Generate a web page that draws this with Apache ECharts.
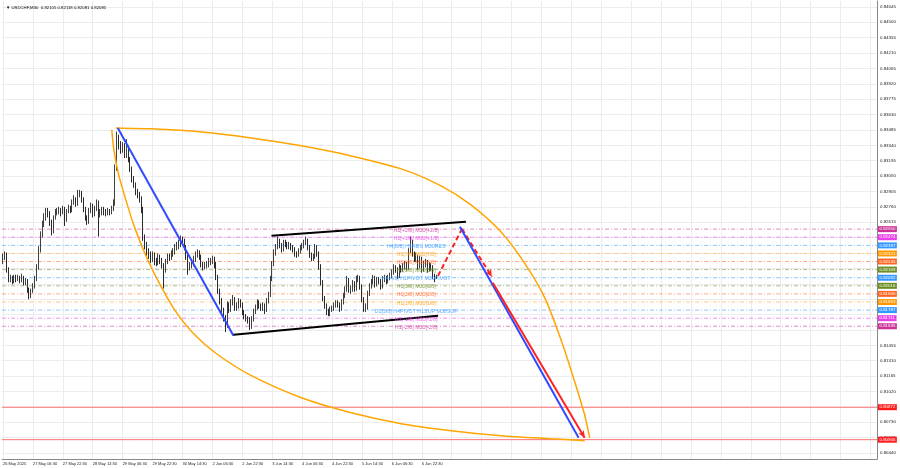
<!DOCTYPE html>
<html><head><meta charset="utf-8">
<script src="https://cdn.jsdelivr.net/npm/echarts@6/dist/echarts.min.js"></script>
<style>html,body{margin:0;padding:0;background:#fff}#c{width:900px;height:468px}</style>
</head><body><div id="c"></div>
<script>
// ---------- data ----------
const chartTitle = 'USDCHF,M30  0.82105 0.82118 0.82081 0.82085';
const timeLabels = ['26 May 2025','27 May 06:30','27 May 22:30','28 May 14:30','29 May 06:30','29 May 22:30','30 May 14:30','2 Jun 06:30','2 Jun 22:30','3 Jun 14:30','4 Jun 06:30','4 Jun 22:30','5 Jun 14:30','6 Jun 06:30','6 Jun 22:30'];
const barsPerLabel = 16;
const totalSlots = 468;
const priceTicks = [0.84645,0.84500,0.84355,0.84210,0.84065,0.83920,0.83775,0.83630,0.83485,0.83340,0.83195,0.83050,0.82905,0.82760,0.82615,0.81455,0.81310,0.81165,0.81020,0.80730,0.80585,0.80440];
const gridPrices = [0.84645,0.84500,0.84355,0.84210,0.84065,0.83920,0.83775,0.83630,0.83485,0.83340,0.83195,0.83050,0.82905,0.82760,0.82615,0.82470,0.82325,0.82180,0.82035,0.81890,0.81745,0.81600,0.81455,0.81310,0.81165,0.81020,0.80875,0.80730,0.80585,0.80440];

// OHLC in pips above 0.8000 (229 => 0.8229); open = previous close
const firstOpen = 225;
const closes = [229,231,217,208,209,206,210,208,209,207,
210,205,206,198,193,197,201,208,219,236,
250,260,266,272,270,262,253,266,271,272,
273,271,274,264,272,275,273,280,283,279,
287,289,283,274,266,262,272,277,269,274,
280,269,271,274,271,270,272,271,274,279,
312,342,335,330,334,325,332,321,312,302,
297,290,287,283,274,247,240,234,231,227,
231,225,224,229,225,221,217,225,229,228,
232,234,238,239,241,245,244,238,229,220,
221,223,227,231,233,229,222,220,221,222,
225,225,227,222,210,197,188,179,172,164,
184,179,186,189,181,183,187,184,177,173,
171,170,164,170,177,181,186,183,181,183,
179,187,193,208,222,232,238,244,240,236,
242,241,239,240,238,236,232,231,234,237,
239,242,244,238,231,229,229,238,232,220,
205,190,183,177,176,179,180,183,185,184,
180,186,192,198,207,198,198,204,199,208,
209,201,189,181,181,194,201,205,209,203,
207,206,201,208,209,206,209,211,214,219,
217,211,219,217,220,222,219,234,243,232,
227,229,220,227,217,222,224,217,221,219,
211,208,209];
const highs = [232,234,233,219,212,211,212,212,212,211,
213,211,209,208,200,199,204,211,222,239,
253,263,270,275,275,272,264,268,274,275,
276,275,277,276,274,278,277,283,287,285,
292,292,291,285,276,268,275,280,279,277,
283,282,274,276,276,274,275,274,277,283,
316,347,344,338,337,336,340,334,323,314,
305,299,293,290,286,276,250,243,237,234,
234,233,228,232,231,228,223,227,232,232,
235,237,241,243,245,249,248,246,240,231,
224,226,230,234,236,235,231,224,224,225,
228,228,230,229,224,212,199,190,181,174,
187,186,189,193,191,186,190,189,186,179,
175,173,172,173,180,184,189,188,185,186,
185,190,196,211,225,236,241,248,246,242,
245,245,243,243,242,240,238,234,237,240,
242,245,248,246,240,233,232,241,240,234,
222,207,192,185,180,182,183,186,188,188,
186,189,195,201,211,209,202,207,206,211,
212,211,203,191,185,197,204,208,212,211,
210,210,208,211,212,211,212,214,217,222,
221,219,222,221,223,225,224,237,248,245,
234,233,231,230,229,225,227,226,224,223,
221,213,212];
const lows = [222,226,214,205,205,203,204,205,206,204,
205,202,202,195,189,190,195,199,206,217,
233,247,257,263,266,258,249,251,264,268,
269,267,269,258,262,270,270,271,278,276,
277,285,280,271,263,259,260,270,266,267,
272,248,266,268,268,267,268,268,269,272,
277,310,330,326,327,322,322,318,309,299,
294,287,284,280,270,244,236,230,227,223,
224,221,220,221,222,218,199,214,222,225,
226,229,231,235,236,238,240,235,226,212,
216,218,220,224,228,226,219,216,217,218,
219,221,222,218,207,194,184,175,168,158,
162,176,177,183,178,178,180,181,174,170,
168,166,160,161,168,175,179,180,178,178,
175,177,185,191,206,220,230,236,237,233,
234,238,236,236,235,233,229,228,229,232,
235,237,240,235,228,225,225,227,229,217,
202,187,180,174,173,173,177,178,181,181,
177,178,184,190,196,195,194,196,196,197,
205,198,186,177,177,179,192,199,203,200,
201,203,198,199,205,203,204,207,209,212,
214,208,209,214,215,217,216,217,232,229,
224,224,217,218,214,215,219,214,215,216,
208,205,208];

// Murrey levels (price), names, colours (badge/text colour, line colour)
const murreyLevels = [0.82550,0.82474,0.82397,0.82321,0.82245,0.82169,0.82092,0.82016,0.81940,0.81863,0.81787,0.81711,0.81635];
const murreyNames = ['H1[+2/8] M30[+2/8]','H1[+1/8] M30[+1/8]','H4[8/8] H1RES M30RES','H1[7/8] M30[7/8]','H1[6/8] M30[6/8]','H1[5/8] M30[5/8]','H4[4/8] H1PIVOT M30PIVOT','H1[3/8] M30[3/8]','H1[2/8] M30[2/8]','H1[1/8] M30[1/8]','D1[3/8] H4PIVOT H1SUP M30SUP','H1[-1/8] M30[-1/8]','H1[-2/8] M30[-2/8]'];
const murreyColors = ['#cc3399','#e840e8','#3399ff','#ff9900','#ff6622','#6b8e23','#3399ff','#6b8e23','#ff6622','#ff9900','#3399ff','#e840e8','#cc3399'];
const murreyLineColors = ['#e08cc4','#f08cf0','#8cc4ff','#ffc880','#ffa888','#aabd88','#8cc4ff','#aabd88','#ffa888','#ffc880','#8cc4ff','#f08cf0','#e08cc4'];
const redLevels = [0.80872,0.80566];

// drawn objects: [bar index, price]
const blueTrend1 = [[61.4,0.83504],[123.3,0.81545]];
const channelUpper = [[143.6,0.82487],[247.6,0.82619]];
const channelLower = [[123.3,0.81555],[232.7,0.81734]];
const redDashUp = [[232.7,0.82110],[245.5,0.82553]];
const redDashDown = [[245.5,0.82553],[261.5,0.82101]];
const blueTrend2 = [[244.4,0.82572],[307.9,0.80585]];
const redTrend = [[262.0,0.82044],[311.1,0.80585]];
const upperArc = [[60.3,0.83504],[79.5,0.83495],[106.2,0.83466],[132.9,0.83410],[159.6,0.83335],[186.3,0.83240],[213.0,0.83118],[234.3,0.82958],[250.3,0.82779],[266.3,0.82525],[279.6,0.82214],[290.3,0.81884],[299.4,0.81461],[306.3,0.81084],[311.1,0.80801],[313.8,0.80585]];
const lowerArc = [[58.2,0.83485],[59.3,0.83297],[61.9,0.83061],[65.7,0.82826],[70.5,0.82562],[76.9,0.82280],[83.8,0.82035],[91.8,0.81790],[102.0,0.81564],[114.2,0.81376],[132.9,0.81169],[159.6,0.80961],[186.3,0.80820],[213.0,0.80717],[239.6,0.80651],[266.3,0.80604],[293.0,0.80575],[311.1,0.80557]];

// ---------- build ----------
const F = '"Liberation Sans", Arial, sans-serif';
const toP = v => (8000 + v) / 10000;
const xMin = -0.5, xMax = totalSlots - 0.5;
const opens = closes.map((c, i) => i === 0 ? firstOpen : closes[i - 1]);
const candleData = closes.map((c, i) => [i, toP(opens[i]), toP(c), toP(lows[i]), toP(highs[i])]);
const xLabelIdx = timeLabels.map((t, k) => k * barsPerLabel);
const xGridIdx = [];
for (let k = 0; k * barsPerLabel < totalSlots; k++) xGridIdx.push(k * barsPerLabel);

function levelSeries(level, lineColor, badgeColor, type) {
  return {type: 'line', data: [[xMin, level], [xMax, level]], symbol: 'none', z: 2, silent: true,
    clip: false,
    lineStyle: {color: lineColor, width: 1, type: type},
    endLabel: {show: true, formatter: () => level.toFixed(5), distance: 1,
      backgroundColor: badgeColor, color: '#fff', fontSize: 4.4, fontFamily: F, padding: [1.2, 1.5, 0.8, 1.5]}};
}
function seg(pts, color, width, type, arrow) {
  return [{coord: pts[0], symbol: 'none'},
          {coord: pts[1], symbol: arrow ? 'arrow' : 'none', symbolSize: arrow ? [5, 7] : 0,
           lineStyle: {color: color, width: width, type: type}, label: {show: false}}];
}
const levelSeriesList = murreyLevels.map((v, k) => levelSeries(v, murreyLineColors[k], murreyColors[k], [4, 2, 1, 2]))
  .concat(redLevels.map(v => levelSeries(v, '#ff7070', '#ff1a1a', 'solid')));

const trendData = [
  seg(blueTrend1, '#2f4bff', 2, 'solid'),
  seg(channelUpper, '#000', 2, 'solid'),
  seg(channelLower, '#000', 2, 'solid'),
  seg(redDashUp, '#ff2222', 2, [5, 3]),
  seg(redDashDown, '#ff2222', 2, [5, 3], true),
  seg(blueTrend2, '#2f4bff', 2, 'solid'),
  seg(redTrend, '#ff2222', 2, 'solid', true)
];

const labelX = 221;
const murreyLabelData = murreyLevels.map((v, k) => ({value: [labelX, v], name: murreyNames[k],
  label: {color: murreyColors[k]}}));

const chart = echarts.init(document.getElementById('c'), null, {renderer: 'canvas'});
chart.setOption({
  animation: false,
  backgroundColor: '#fff',
  title: {text: '\u25BC ' + chartTitle, left: 1, top: 1,
    textStyle: {fontFamily: F, fontSize: 4.3, fontWeight: 'normal', color: '#000'}},
  grid: {left: 0, right: 23, top: 1, bottom: 9},
  xAxis: {type: 'value', min: xMin, max: xMax,
    axisLine: {show: true, onZero: false, lineStyle: {color: '#888'}},
    axisTick: {show: false, customValues: xGridIdx},
    axisLabel: {customValues: xLabelIdx, formatter: v => timeLabels[Math.round(v / barsPerLabel)] || '',
      align: 'left', fontSize: 4, color: '#222', margin: 3, fontFamily: F},
    splitLine: {show: true, lineStyle: {color: '#ececec', width: 1}}},
  yAxis: {type: 'value', position: 'right', min: 0.80384, max: 0.84700, scale: true,
    axisLine: {show: true, onZero: false, lineStyle: {color: '#888'}},
    axisTick: {show: false, customValues: gridPrices},
    axisLabel: {customValues: priceTicks, formatter: v => v.toFixed(5), fontSize: 4.4, margin: 3, color: '#222', fontFamily: F},
    splitLine: {show: true, lineStyle: {color: '#ececec', width: 1}}},
  series: levelSeriesList.concat([
    {type: 'candlestick', data: candleData, encode: {x: 0, y: [1, 2, 3, 4]}, barWidth: 1.2, z: 3,
      itemStyle: {color: '#707070', color0: '#2a2a2a', borderColor: '#404040', borderColor0: '#2a2a2a', borderWidth: 1}},
    {type: 'line', data: upperArc, smooth: 0.25, symbol: 'none', z: 4,
      lineStyle: {color: '#ffa500', width: 1.5}},
    {type: 'line', data: lowerArc, smooth: 0.25, symbol: 'none', z: 4,
      lineStyle: {color: '#ffa500', width: 1.5}},
    {type: 'line', data: [], z: 6, markLine: {silent: true, precision: 5, symbol: ['none', 'none'], animation: false, data: trendData}},
    {type: 'scatter', data: murreyLabelData, symbolSize: 0, z: 10,
      label: {show: true, position: 'inside', offset: [0, 1], formatter: p => p.name, fontSize: 5.3, fontFamily: F}}
  ])
});
</script></body></html>
